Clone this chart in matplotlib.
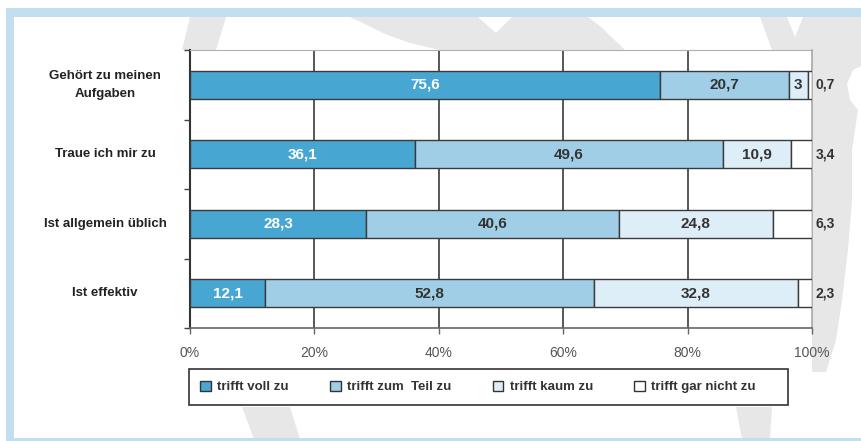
import matplotlib
matplotlib.use("Agg")
import matplotlib.pyplot as plt
from matplotlib.patches import Polygon, Rectangle, Patch
from matplotlib.transforms import blended_transform_factory

# ---- data -------------------------------------------------------------
categories = ["Gehört zu meinen\nAufgaben", "Traue ich mir zu",
              "Ist allgemein üblich", "Ist effektiv"]
series_names = ["trifft voll zu", "trifft zum  Teil zu",
                "trifft kaum zu", "trifft gar nicht zu"]
voll = [75.6, 36.1, 28.3, 12.1]
teil = [20.7, 49.6, 40.6, 52.8]
kaum = [3.0, 10.9, 24.8, 32.8]
gar_nicht = [0.7, 3.4, 6.3, 2.3]
x_ticks = [0, 20, 40, 60, 80, 100]
x_tick_labels = ["0%", "20%", "40%", "60%", "80%", "100%"]

# ---- style ------------------------------------------------------------
colors = ["#48a7d2", "#a0cee6", "#ddeef8", "#ffffff"]
text_colors = ["white", "#333333", "#333333", "#333333"]
frame_blue = "#c3dfef"
mark_gray = "#e7e7e7"
sans = ["Liberation Sans", "DejaVu Sans"]

W, H = 861, 441
fig = plt.figure(figsize=(W / 100, H / 100), dpi=100)
fig.patch.set_facecolor("white")


def px(points):
    return [(x / W, 1 - y / H) for x, y in points]


def px_rect(x0, y0, w, h):
    return (x0 / W, 1 - (y0 + h) / H), w / W, h / H


# background watermark shapes
shapes = [
    [(350, 17), (478, 17), (496, 33), (512, 17), (588, 17), (600, 26),
     (625, 50), (440, 50), (410, 43), (385, 34), (365, 24)],
    [(190, 17), (226, 17), (216, 50), (182, 50)],
    [(760, 17), (787, 17), (795, 37), (803, 17), (861, 17), (861, 66),
     (853, 70), (847, 84), (850, 100), (858, 110), (852, 150), (852, 200),
     (848, 250), (842, 300), (836, 340), (826, 372), (812, 372), (812, 50),
     (772, 50)],
    [(242, 407), (290, 407), (300, 439), (254, 439)],
    [(736, 407), (772, 407), (770, 439), (742, 439)],
]
for pts in shapes:
    fig.add_artist(Polygon(px(pts), closed=True, transform=fig.transFigure,
                           facecolor=mark_gray, edgecolor="none", zorder=-3))

# light blue frame
for box in [(6, 8, 855, 9), (6, 8, 8, 433), (6, 438, 855, 3)]:
    xy, w, h = px_rect(*box)
    fig.add_artist(Rectangle(xy, w, h, transform=fig.transFigure,
                             facecolor=frame_blue, edgecolor="none",
                             zorder=-2))

# ---- axes -------------------------------------------------------------
ax = fig.add_axes([190 / W, 1 - 328 / H, 622 / W, 278 / H])
ax.set_facecolor("white")
ax.set_xlim(0, 100)
ax.set_ylim(3.5, -0.5)

for g in x_ticks[1:-1]:
    ax.axvline(g, color="#4a4a4a", lw=1.3, zorder=1)

ypos = list(range(len(categories)))
left = [0.0] * len(categories)
all_series = [voll, teil, kaum, gar_nicht]
for k, vals in enumerate(all_series):
    ax.barh(ypos, vals, left=left, height=0.4, color=colors[k],
            edgecolor="#3a3a3a", linewidth=1.0, zorder=3)
    for i, v in enumerate(vals):
        label = f"{v:g}".replace(".", ",")
        if k < 3:
            ax.text(left[i] + v / 2, i, label, ha="center", va="center",
                    color=text_colors[k], fontsize=11, fontweight="bold",
                    family=sans, zorder=4)
        else:
            ax.text(100.6, i, label, ha="left", va="center",
                    color="#333333", fontsize=10, fontweight="bold",
                    family=sans, zorder=4, clip_on=False)
    left = [l + v for l, v in zip(left, vals)]

# category labels, centred in the left margin
label_tf = blended_transform_factory(fig.transFigure, ax.transData)
for i, cat in enumerate(categories):
    ax.text(105 / W, i, cat, transform=label_tf, ha="center", va="center",
            fontsize=9.5, fontweight="bold", family=sans, color="#222222",
            linespacing=1.7)

ax.set_yticks([-0.5, 0.5, 1.5, 2.5, 3.5])
ax.set_yticklabels([])
ax.tick_params(axis="y", direction="out", length=4, width=1,
               color="#444444")
ax.set_xticks(x_ticks)
ax.set_xticklabels(x_tick_labels, family=sans, fontsize=10, color="#555555")
ax.tick_params(axis="x", direction="out", length=4, width=1,
               color="#666666", pad=9)

ax.spines["left"].set_color("#333333")
ax.spines["left"].set_linewidth(1.5)
ax.spines["bottom"].set_color("#666666")
ax.spines["bottom"].set_linewidth(1.2)
ax.spines["top"].set_color("#b0b0b0")
ax.spines["right"].set_color("#a8a8a8")
ax.spines["right"].set_linewidth(1.2)

# ---- legend -----------------------------------------------------------
xy, w, h = px_rect(189, 369, 599, 36)
fig.add_artist(Rectangle(xy, w, h, transform=fig.transFigure,
                         facecolor="white", edgecolor="#333333",
                         linewidth=1.2, zorder=4))
handles = [Patch(facecolor=c, edgecolor="#333333", linewidth=1.0)
           for c in colors]
leg = fig.legend(handles, series_names, loc="center",
                 bbox_to_anchor=(189 / W, 1 - 405 / H, 578 / W, 36 / H),
                 mode="expand", ncol=4, frameon=False,
                 borderpad=0.85, handlelength=0.8, handleheight=0.8,
                 handletextpad=0.5, borderaxespad=0,
                 prop={"family": sans, "size": 9.5, "weight": "bold"})
leg.set_zorder(5)
for t in leg.get_texts():
    t.set_color("#333333")

fig.savefig("out.png", dpi=100)
